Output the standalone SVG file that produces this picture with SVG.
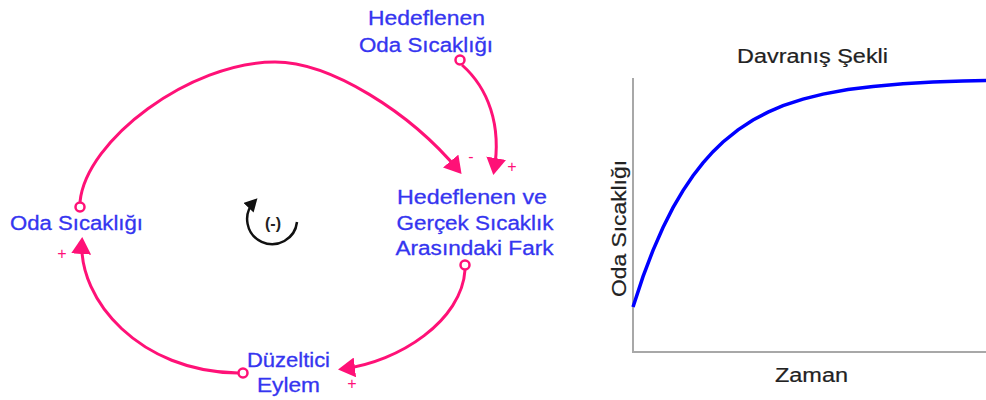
<svg xmlns="http://www.w3.org/2000/svg" width="986" height="400" viewBox="0 0 986 400">
<style>
  .lbl { font-family: "Liberation Sans", Arial, sans-serif; font-size: 20px; fill: #3535f0; stroke: #3535f0; stroke-width: 0.3; text-anchor: middle; }
  .chart { font-family: "Liberation Sans", Arial, sans-serif; font-size: 20px; fill: #222; stroke: #222; stroke-width: 0.2; text-anchor: middle; }
  .sign { font-family: "Liberation Sans", Arial, sans-serif; font-size: 16px; fill: #ff1177; text-anchor: middle; }
  .link { fill: none; stroke: #ff1177; stroke-width: 3; marker-end: url(#pink); }
  .port { fill: #fff; stroke: #ff1177; stroke-width: 2.5; }
  .axis { stroke: #a8a8a8; stroke-width: 2; fill: none; }
</style>
<defs>
  <marker id="pink" markerUnits="userSpaceOnUse" markerWidth="18" markerHeight="20" refX="13" refY="10" orient="auto">
    <path d="M0,0 L17,10 L0,20 z" fill="#ff1177"/>
  </marker>
  <marker id="blk" markerUnits="userSpaceOnUse" markerWidth="14" markerHeight="14" refX="8" refY="7" orient="auto">
    <path d="M0,0 L13,7 L0,14 z" fill="#111"/>
  </marker>
</defs>

<g id="connectors">
  <path class="link" d="M80,202 C86,140 190,62 275,62 C330,62 410,112 459,171"/>
  <path class="link" d="M462,65 C488,88 502,125 494,171"/>
  <path class="link" d="M465,270 C462,320 400,362 342,369"/>
  <path class="link" d="M238,373 C140,372 78,300 82,241"/>
  <text class="sign" x="471" y="162">-</text>
  <text class="sign" x="512" y="172">+</text>
  <text class="sign" x="352" y="389">+</text>
  <text class="sign" x="62" y="259">+</text>
</g>

<g id="node-hedef">
  <text class="lbl" x="426.5" y="25" textLength="117" lengthAdjust="spacingAndGlyphs">Hedeflenen</text>
  <text class="lbl" x="426" y="52" textLength="134" lengthAdjust="spacingAndGlyphs">Oda Sıcaklığı</text>
  <circle class="port" cx="460" cy="60" r="4.5"/>
</g>

<g id="node-fark">
  <text class="lbl" x="472" y="204" textLength="150" lengthAdjust="spacingAndGlyphs">Hedeflenen ve</text>
  <text class="lbl" x="475" y="230" textLength="157" lengthAdjust="spacingAndGlyphs">Gerçek Sıcaklık</text>
  <text class="lbl" x="474.5" y="255" textLength="158" lengthAdjust="spacingAndGlyphs">Arasındaki Fark</text>
  <circle class="port" cx="465" cy="265" r="4.5"/>
</g>

<g id="node-oda">
  <text class="lbl" x="76.5" y="230" textLength="133" lengthAdjust="spacingAndGlyphs">Oda Sıcaklığı</text>
  <circle class="port" cx="80" cy="207" r="4.5"/>
</g>

<g id="node-duzeltici">
  <text class="lbl" x="288.5" y="367" textLength="83" lengthAdjust="spacingAndGlyphs">Düzeltici</text>
  <text class="lbl" x="288.5" y="392" textLength="63" lengthAdjust="spacingAndGlyphs">Eylem</text>
  <circle class="port" cx="243" cy="373" r="4.5"/>
</g>

<g id="loop">
  <path d="M297,222 A25,25 0 1 1 254,202" fill="none" stroke="#111" stroke-width="2.5" marker-end="url(#blk)"/>
  <text x="273" y="229" font-family="Liberation Sans, Arial, sans-serif" font-size="16" font-weight="bold" fill="#222" text-anchor="middle">(-)</text>
</g>

<g id="chart">
  <text class="chart" x="812.5" y="63" textLength="151" lengthAdjust="spacingAndGlyphs">Davranış Şekli</text>
  <path class="axis" d="M633,78 L633,352 L986,352"/>
  <polyline fill="none" stroke="#0000ff" stroke-width="3.5" points="633,307 643,276.7 653,250.3 663,227.5 673,207.7 683,190.6 693,175.7 703,162.9 713,151.7 723,142 738,129.9 753,120 768,112.1 783,105.7 803,99.1 823,94.1 848,89.6 873,86.4 903,83.8 933,82.1 963,81 986,80.5"/>
  <text class="chart" x="811.5" y="382" textLength="73" lengthAdjust="spacingAndGlyphs">Zaman</text>
  <text class="chart" transform="translate(626,228.5) rotate(-90)" x="0" y="0" textLength="137" lengthAdjust="spacingAndGlyphs">Oda Sıcaklığı</text>
</g>
</svg>
